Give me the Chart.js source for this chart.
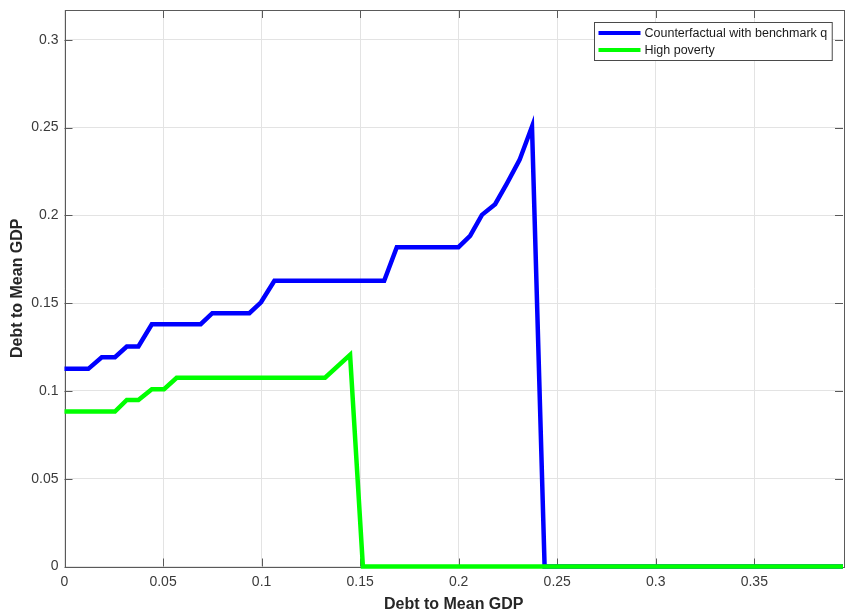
<!DOCTYPE html>
<html>
<head>
<meta charset="utf-8">
<script src="https://cdn.jsdelivr.net/npm/chart.js@4"></script>
<style>
  html, body { margin: 0; padding: 0; background: #fff; }
  #wrap { width: 848px; height: 616px; position: relative; }
</style>
</head>
<body>
<div id="wrap"><canvas id="c" width="848" height="616"></canvas></div>
<script>
// Debt grid (share of mean GDP) and the chosen debt level for each scenario
const seriesNames = ['Counterfactual with benchmark q', 'High poverty'];
const seriesColors = ['#0000ff', '#00ff00'];

const benchX = [0, 0.0121, 0.0189, 0.0256, 0.0316, 0.0375, 0.0443, 0.0691, 0.0750, 0.0938,
                0.0997, 0.1065, 0.1622, 0.1686, 0.1999, 0.2058, 0.2118, 0.2185, 0.2245,
                0.2309, 0.2372, 0.2436, 0.395];
const benchY = [0.1126, 0.1126, 0.1192, 0.1192, 0.1253, 0.1253, 0.1380, 0.1380, 0.1443, 0.1443,
                0.1505, 0.1628, 0.1628, 0.1819, 0.1819, 0.1883, 0.2003, 0.2064, 0.2183,
                0.2316, 0.2506, 0, 0];

const povX = [0, 0.0256, 0.0316, 0.0375, 0.0443, 0.0505, 0.0569, 0.1322, 0.1449, 0.1514, 0.395];
const povY = [0.0883, 0.0883, 0.0949, 0.0949, 0.1010, 0.1010, 0.1075, 0.1075, 0.1206, 0, 0];

const xTicks = [0, 0.05, 0.1, 0.15, 0.2, 0.25, 0.3, 0.35];
const yTicks = [0, 0.05, 0.1, 0.15, 0.2, 0.25, 0.3];
const xRange = [0, 0.395];
const yRange = [0, 0.317];
const axisTitle = 'Debt to Mean GDP';

const toPoints = (xs, ys) => xs.map((x, i) => ({ x: x, y: ys[i] }));
const fmt = v => String(Number(v.toFixed(3)));

const FONT = '"Liberation Sans", Arial, Helvetica, sans-serif';
const AXIS_COLOR = '#5a5a5a';
const GRID_COLOR = '#e3e3e3';

// Box around the axes with inward tick marks on all four sides
const boxPlugin = {
  id: 'box',
  beforeDatasetsDraw(chart) {
    const { ctx, chartArea: a, scales } = chart;
    const L = 8;
    ctx.save();
    ctx.strokeStyle = AXIS_COLOR;
    ctx.lineWidth = 1;
    ctx.beginPath();
    xTicks.forEach(v => {
      const px = Math.round(scales.x.getPixelForValue(v)) + 0.5;
      ctx.moveTo(px, a.bottom); ctx.lineTo(px, a.bottom - L);
      ctx.moveTo(px, a.top); ctx.lineTo(px, a.top + L);
    });
    yTicks.forEach(v => {
      const py = Math.round(scales.y.getPixelForValue(v)) + 0.5;
      ctx.moveTo(a.left, py); ctx.lineTo(a.left + L, py);
      ctx.moveTo(a.right, py); ctx.lineTo(a.right - L, py);
    });
    ctx.stroke();
    ctx.strokeRect(Math.round(a.left) + 0.5, Math.round(a.top) + 0.5,
                   Math.round(a.right - a.left), Math.round(a.bottom - a.top));
    ctx.restore();
  }
};

// Legend box in the upper right corner of the axes
const legendPlugin = {
  id: 'boxLegend',
  afterDatasetsDraw(chart) {
    const { ctx, chartArea: a } = chart;
    const ds = chart.data.datasets;
    ctx.save();
    ctx.font = '12.5px ' + FONT;
    const textW = Math.max(...ds.map(d => ctx.measureText(d.label).width));
    const rowH = 17;
    const padT = 2, padL = 4, lineLen = 42, gap = 4, padR = 5;
    const w = padL + lineLen + gap + textW + padR;
    const h = padT * 2 + rowH * ds.length;
    const x0 = Math.round(a.right - 11 - w) + 0.5;
    const y0 = Math.round(a.top + 12) + 0.5;
    ctx.fillStyle = '#fff';
    ctx.fillRect(x0, y0, w, h);
    ctx.strokeStyle = '#4a4a4a';
    ctx.lineWidth = 1;
    ctx.strokeRect(x0, y0, w, h);
    ds.forEach((d, i) => {
      const cy = y0 + padT + rowH * i + rowH / 2;
      ctx.strokeStyle = d.borderColor;
      ctx.lineWidth = 4;
      ctx.beginPath();
      ctx.moveTo(x0 + padL, cy);
      ctx.lineTo(x0 + padL + lineLen, cy);
      ctx.stroke();
      ctx.fillStyle = '#1a1a1a';
      ctx.textBaseline = 'middle';
      ctx.fillText(d.label, x0 + padL + lineLen + gap, cy + 0.5);
    });
    ctx.restore();
  }
};

new Chart(document.getElementById('c'), {
  type: 'scatter',
  data: {
    datasets: [
      {
        label: seriesNames[0],
        data: toPoints(benchX, benchY),
        showLine: true,
        borderColor: seriesColors[0],
        backgroundColor: seriesColors[0],
        borderWidth: 4.5,
        pointRadius: 0,
        pointHoverRadius: 0,
        borderJoinStyle: 'miter',
        tension: 0,
        clip: 6,
        order: 1
      },
      {
        label: seriesNames[1],
        data: toPoints(povX, povY),
        showLine: true,
        borderColor: seriesColors[1],
        backgroundColor: seriesColors[1],
        borderWidth: 4.5,
        pointRadius: 0,
        pointHoverRadius: 0,
        borderJoinStyle: 'miter',
        tension: 0,
        clip: 6,
        order: 0
      }
    ]
  },
  plugins: [boxPlugin, legendPlugin],
  options: {
    responsive: false,
    animation: false,
    events: [],
    layout: { padding: { top: 10, right: 5, left: 0, bottom: 0 } },
    plugins: {
      legend: { display: false },
      tooltip: { enabled: false }
    },
    scales: {
      x: {
        type: 'linear',
        min: xRange[0],
        max: xRange[1],
        afterBuildTicks: s => { s.ticks = xTicks.map(v => ({ value: v })); },
        afterFit: s => { s.height = 49.5; s.paddingLeft = 0; s.paddingRight = 0; },
        border: { display: false },
        grid: { color: GRID_COLOR, lineWidth: 1, drawTicks: false },
        ticks: {
          padding: 7,
          maxRotation: 0,
          autoSkip: false,
          color: '#3a3a3a',
          font: { family: FONT, size: 14 },
          callback: v => fmt(v)
        },
        title: {
          display: true,
          text: axisTitle,
          color: '#262626',
          font: { family: FONT, size: 16, weight: 'bold' },
          padding: { top: 0, bottom: 2 }
        }
      },
      y: {
        type: 'linear',
        min: yRange[0],
        max: yRange[1],
        afterBuildTicks: s => { s.ticks = yTicks.map(v => ({ value: v })); },
        afterFit: s => { s.width = 64.5; s.paddingTop = 0; s.paddingBottom = 0; },
        border: { display: false },
        grid: { color: GRID_COLOR, lineWidth: 1, drawTicks: false },
        ticks: {
          padding: 6,
          color: '#3a3a3a',
          font: { family: FONT, size: 14 },
          callback: v => fmt(v)
        },
        title: {
          display: true,
          text: axisTitle,
          color: '#262626',
          font: { family: FONT, size: 16, weight: 'bold' },
          padding: { top: 8, bottom: 0 }
        }
      }
    }
  }
});
</script>
</body>
</html>
